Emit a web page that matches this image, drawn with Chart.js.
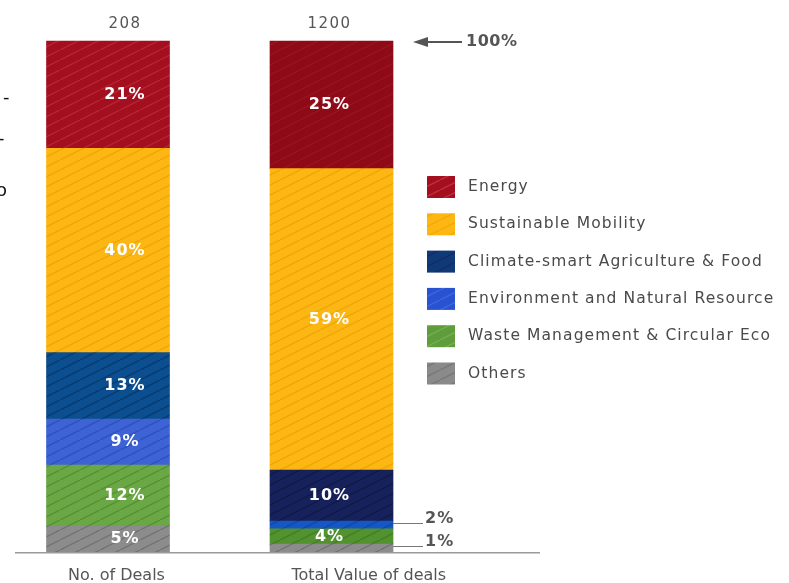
<!DOCTYPE html>
<html>
<head>
<meta charset="utf-8">
<script src="https://cdn.jsdelivr.net/npm/chart.js@4"></script>
<style>
  html, body { margin: 0; padding: 0; background: #fff; }
  #wrap { width: 789px; height: 583px; position: relative; }
</style>
</head>
<body>
<div id="wrap"><canvas id="dealsChart"></canvas></div>
<script>
const categories = ['No. of Deals', 'Total Value of deals'];
const totals = ['208', '1200'];
const sectors = [
  'Energy',
  'Sustainable Mobility',
  'Climate-smart Agriculture & Food',
  'Environment and Natural Resource',
  'Waste Management & Circular Eco',
  'Others'
];
// share of each sector (%)
const dealShares  = [21, 40, 13, 9, 12, 5];
const valueShares = [25, 59, 10, 1.5, 3, 1.5];
// printed labels
const dealLabels  = ['21%', '40%', '13%', '9%', '12%', '5%'];
const valueLabels = ['25%', '59%', '10%', '2%', '4%', '1%'];

// base colour / hatch colour, one pair per bar
const dealColors  = [['#a30f1f', '#b82534'], ['#fdb714', '#f0a500'], ['#0c4f90', '#083a6e'], ['#3d63d6', '#2f50b8'], ['#6aa845', '#578f35'], ['#8c8c8c', '#737373']];
const valueColors = [['#8e0a16', '#9c1420'], ['#fdb714', '#f0a500'], ['#17225c', '#101946'], ['#1458c8', '#1048a8'], ['#52922f', '#447d25'], ['#8c8c8c', '#737373']];
const legendColors = [['#a30f1f', '#c0303d'], ['#fdb714', '#f6a800'], ['#0f3a78', '#1a2a62'], ['#2852d0', '#3b68e0'], ['#5f9c3c', '#74b04f'], ['#8a8a8a', '#777']];

function hatch(base, line) {
  const c = document.createElement('canvas');
  c.width = 20; c.height = 10;
  const g = c.getContext('2d');
  g.fillStyle = base;
  g.fillRect(0, 0, 20, 10);
  g.strokeStyle = line;
  g.lineWidth = 1.4;
  g.beginPath();
  g.moveTo(-2, 11); g.lineTo(22, -1);
  g.stroke();
  return g.createPattern(c, 'repeat');
}

const FONT = '"DejaVu Sans", sans-serif';

const datasets = sectors.map((name, i) => ({
  label: name,
  data: [dealShares[i], valueShares[i]],
  texts: [dealLabels[i], valueLabels[i]],
  backgroundColor: [hatch(dealColors[i][0], dealColors[i][1]), hatch(valueColors[i][0], valueColors[i][1])],
  borderWidth: 0,
  barThickness: 123,
  clip: false
})).reverse();

const decorations = {
  id: 'decorations',
  afterDatasetsDraw(chart) {
    const ctx = chart.ctx;
    const area = chart.chartArea;
    const y = chart.scales.y;
    const shift = [17, -2];
    ctx.save();

    // segment labels
    chart.data.datasets.forEach((ds, di) => {
      const meta = chart.getDatasetMeta(di);
      meta.data.forEach((bar, i) => {
        const p = bar.getProps(['x', 'y', 'base', 'width'], true);
        const h = Math.abs(p.base - p.y);
        const cy = (p.base + p.y) / 2;
        ctx.letterSpacing = '1px';
        if (h >= 12) {
          ctx.font = 'bold 16px ' + FONT;
          ctx.fillStyle = '#fff';
          ctx.textAlign = 'center';
          ctx.textBaseline = 'middle';
          ctx.fillText(ds.texts[i], p.x + shift[i], cy);
        } else {
          const x0 = p.x + p.width / 2;
          const ly = Math.round(cy) - 1.5;
          ctx.strokeStyle = '#777';
          ctx.lineWidth = 1;
          ctx.beginPath();
          ctx.moveTo(x0, ly);
          ctx.lineTo(x0 + 30, ly);
          ctx.stroke();
          ctx.font = 'bold 16px ' + FONT;
          ctx.fillStyle = '#555';
          ctx.textAlign = 'left';
          ctx.textBaseline = 'middle';
          ctx.fillText(ds.texts[i], x0 + 32, ly - 5);
        }
      });
    });

    // totals above bars
    const meta0 = chart.getDatasetMeta(0);
    ctx.font = '15px ' + FONT;
    ctx.letterSpacing = '1.5px';
    ctx.fillStyle = '#555';
    ctx.textAlign = 'center';
    ctx.textBaseline = 'middle';
    meta0.data.forEach((bar, i) => {
      ctx.fillText(totals[i], bar.x + shift[i], 24);
    });

    // baseline
    ctx.strokeStyle = '#9a9a9a';
    ctx.lineWidth = 1.5;
    ctx.beginPath();
    ctx.moveTo(15, area.bottom + 1);
    ctx.lineTo(540, area.bottom + 1);
    ctx.stroke();

    // 100% marker
    const y100 = y.getPixelForValue(100);
    ctx.strokeStyle = '#555';
    ctx.fillStyle = '#555';
    ctx.lineWidth = 2;
    ctx.beginPath();
    ctx.moveTo(424, y100 + 1);
    ctx.lineTo(462, y100 + 1);
    ctx.stroke();
    ctx.beginPath();
    ctx.moveTo(413, y100 + 1);
    ctx.lineTo(428, y100 - 4);
    ctx.lineTo(428, y100 + 6);
    ctx.closePath();
    ctx.fill();
    ctx.font = 'bold 16px ' + FONT;
    ctx.letterSpacing = '0.5px';
    ctx.textAlign = 'left';
    ctx.fillText('100%', 466, y100 + 1);

    // legend
    ctx.letterSpacing = '1.1px';
    sectors.forEach((name, i) => {
      const ly = 187 + i * 37.3;
      ctx.fillStyle = hatch(legendColors[i][0], legendColors[i][1]);
      ctx.fillRect(427, ly - 11, 28, 22);
      ctx.font = '15.5px ' + FONT;
      ctx.fillStyle = '#4a4a4a';
      ctx.textAlign = 'left';
      ctx.fillText(name, 468, ly);
    });

    // cropped text at the left edge
    ctx.letterSpacing = '0px';
    ctx.fillStyle = '#111';
    ctx.font = '18px ' + FONT;
    ctx.fillText('-', 3, 98);
    ctx.fillText('-', -2, 139);
    ctx.fillText('o', -4, 191);
    ctx.restore();
  }
};

new Chart(document.getElementById('dealsChart'), {
  type: 'bar',
  data: { labels: categories, datasets: datasets },
  plugins: [decorations],
  options: {
    responsive: true,
    maintainAspectRatio: false,
    animation: false,
    layout: { padding: { left: 108, right: 457.5, top: 41, bottom: -16 } },
    plugins: {
      legend: { display: false },
      tooltip: { enabled: false }
    },
    scales: {
      x: {
        stacked: true,
        offset: false,
        grid: { display: false, drawTicks: false },
        border: { display: false },
        ticks: {
          align: 'start',
          labelOffset: -40,
          padding: 14,
          color: '#555',
          font: { family: FONT, size: 16 }
        }
      },
      y: {
        stacked: true,
        display: false,
        min: 0,
        max: 100
      }
    }
  }
});
</script>
</body>
</html>
